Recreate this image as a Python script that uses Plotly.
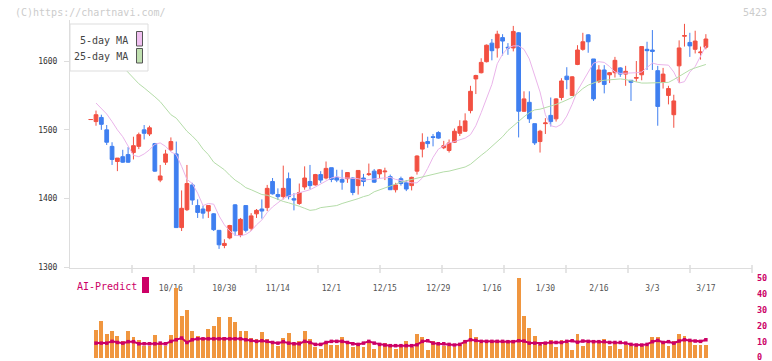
import plotly.graph_objects as go

dates = ["9/24","9/25","9/26","9/29","9/30","10/1","10/2","10/3","10/6","10/7","10/8","10/9","10/10","10/14","10/15","10/16","10/17","10/20","10/21","10/22","10/23","10/24","10/27","10/28","10/29","10/30","10/31","11/4","11/5","11/6","11/7","11/10","11/11","11/12","11/13","11/14","11/17","11/18","11/19","11/20","11/21","11/25","11/26","11/27","11/28","12/1","12/2","12/3","12/4","12/5","12/8","12/9","12/10","12/11","12/12","12/15","12/16","12/17","12/18","12/19","12/22","12/23","12/24","12/25","12/26","12/29","12/30","1/5","1/6","1/7","1/8","1/9","1/13","1/14","1/15","1/16","1/19","1/20","1/21","1/22","1/23","1/26","1/27","1/28","1/29","1/30","2/2","2/3","2/4","2/5","2/6","2/9","2/10","2/12","2/13","2/16","2/17","2/18","2/19","2/20","2/24","2/25","2/26","2/27","3/2","3/3","3/4","3/5","3/6","3/9","3/10","3/11","3/12","3/13","3/16","3/17"]

opens = [1515,1512,1518,1500,1476,1454,1461,1464,1467,1476,1500,1494,1480,1427,1453,1471,1465,1358,1384,1420,
         1390,1385,1382,1378,1354,1332,1343,1391,1347,1390,1357,1378,1385,1387,1425,1406,1403,1429,1400,1393,
         1417,1425,1420,1435,1430,1445,1431,1428,1429,1430,1419,1430,1435,1440,1436,1439,1432,1413,1429,1423,
         1419,1440,1472,1483,1490,1496,1474,1470,1482,1495,1498,1528,1574,1583,1599,1626,1619,1634,1620,1619,
         1641,1527,1540,1509,1483,1509,1521,1516,1547,1578,1550,1595,1617,1638,1603,1570,1587,1580,1583,1590,
         1581,1572,1575,1580,1617,1616,1586,1569,1550,1522,1593,1636,1627,1617,1612,1620]
highs = [1515,1528,1522,1507,1482,1459,1471,1475,1490,1496,1507,1506,1481,1449,1471,1489,1483,1412,1449,1423,
         1399,1390,1390,1379,1354,1341,1362,1392,1372,1390,1379,1385,1399,1420,1430,1415,1448,1438,1408,1422,
         1447,1449,1436,1440,1454,1445,1442,1442,1438,1431,1441,1436,1451,1443,1443,1445,1435,1423,1432,1427,
         1432,1463,1495,1490,1494,1498,1484,1486,1502,1514,1524,1564,1580,1604,1624,1632,1644,1639,1626,1651,
         1642,1556,1556,1509,1500,1517,1547,1546,1575,1591,1578,1623,1641,1639,1603,1594,1594,1584,1606,1591,
         1593,1572,1600,1621,1628,1645,1593,1590,1564,1551,1630,1654,1641,1644,1621,1639]
lows = [1515,1506,1500,1478,1449,1440,1452,1452,1457,1472,1486,1491,1439,1424,1449,1469,1358,1353,1382,1391,
        1372,1371,1372,1353,1327,1328,1341,1346,1344,1351,1353,1372,1371,1382,1406,1398,1399,1399,1383,1391,
        1413,1414,1419,1423,1428,1424,1424,1413,1423,1405,1406,1418,1433,1423,1430,1427,1413,1409,1419,1411,
        1412,1435,1460,1474,1476,1487,1472,1467,1481,1491,1497,1524,1552,1582,1598,1601,1605,1608,1609,1614,
        1489,1526,1510,1478,1467,1494,1505,1512,1543,1559,1549,1594,1615,1612,1542,1568,1553,1568,1576,1577,
        1564,1542,1570,1572,1587,1587,1506,1560,1537,1503,1568,1621,1606,1611,1602,1617]
closes = [1515,1522,1508,1482,1457,1459,1453,1453,1477,1493,1495,1503,1440,1433,1465,1483,1358,1386,1422,1398,
          1380,1379,1390,1355,1333,1335,1361,1353,1370,1354,1375,1383,1382,1415,1407,1403,1415,1403,1398,1409,
          1430,1419,1435,1427,1444,1428,1427,1424,1438,1409,1441,1425,1436,1424,1442,1440,1413,1420,1422,1414,
          1431,1462,1482,1480,1489,1488,1477,1481,1498,1505,1513,1556,1579,1598,1623,1615,1639,1629,1619,1643,
          1527,1545,1516,1481,1498,1510,1512,1545,1571,1573,1577,1616,1628,1628,1545,1587,1566,1583,1601,1581,
          1585,1569,1576,1621,1615,1614,1534,1581,1560,1542,1619,1637,1622,1629,1613,1632]

ma5 = [None,1539,1531,1523,1512,1500,1490,1476,1463,1461,1465,1471,1479,1481,1476,1468,1464,1447,1428,1422,
       1408,1390,1393,1392,1375,1362,1353,1347,1346,1348,1353,1362,1369,1380,1388,1394,1400,1404,1406,1408,
       1410,1413,1417,1421,1426,1430,1432,1430,1430,1430,1429,1427,1428,1428,1429,1431,1431,1428,1426,1424,
       1423,1423,1430,1444,1460,1472,1477,1481,1483,1485,1488,1493,1506,1525,1546,1566,1596,1610,1619,1622,
       1622,1617,1603,1580,1555,1522,1506,1504,1508,1520,1537,1557,1570,1585,1597,1599,1598,1592,1584,1582,
       1582,1582,1583,1584,1590,1597,1595,1594,1594,1584,1568,1570,1584,1592,1606,1622]
ma25 = [None,1634,1626,1618,1609,1600,1592,1584,1575,1567,1561,1555,1548,1541,1531,1522,1517,1507,1498,1491,
        1483,1472,1464,1453,1447,1442,1434,1427,1422,1416,1413,1410,1406,1405,1402,1398,1396,1394,1392,1389,
        1386,1383,1384,1387,1388,1389,1390,1393,1395,1398,1400,1403,1405,1410,1413,1416,1418,1422,1424,1426,
        1428,1430,1432,1434,1435,1437,1439,1440,1442,1444,1446,1450,1457,1463,1469,1476,1484,1490,1499,1506,
        1513,1519,1525,1529,1530,1532,1535,1537,1540,1543,1547,1553,1560,1565,1568,1571,1572,1573,1574,1574,
        1573,1571,1569,1568,1568,1568,1568,1568,1569,1573,1578,1583,1587,1590,1593,1595]

volume = [None,17.4,23.1,14.9,16.4,13.2,10.1,16.8,13.0,11.1,7.4,7.4,14.3,9.0,7.4,14.3,43.8,25.8,30.0,16.4,
          13.7,11.9,18.0,19.5,25.2,12.6,25.2,22.0,16.8,16.8,11.9,11.7,15.7,11.5,9.0,7.5,12.4,15.1,9.0,10.1,
          16.4,11.7,6.5,5.5,9.4,8.0,8.0,13.0,10.1,6.5,9.0,6.7,10.1,5.3,6.9,9.0,6.9,5.3,6.5,10.5,
          6.5,14.9,13.0,4.9,10.1,8.2,7.4,7.4,6.5,8.0,11.1,18.0,12.6,9.0,11.1,10.1,10.9,10.5,10.1,11.1,
          49.5,26.2,18.7,13.7,8.0,9.4,11.1,6.5,10.7,9.0,4.9,14.9,7.4,9.0,10.5,9.0,11.7,7.4,9.0,5.3,
          8.0,7.4,6.9,7.4,7.4,12.6,12.6,10.1,6.9,10.1,14.9,13.2,10.1,8.0,8.0,8.0]
ai_predict = [None,9.0,9.0,9.0,10.1,9.4,9.0,9.9,9.9,8.6,8.6,8.6,8.6,9.0,8.6,10.1,11.1,12.2,9.4,11.1,
              11.7,11.7,11.7,11.7,11.7,11.7,11.7,11.7,11.7,11.1,10.7,10.1,10.5,10.1,9.4,9.0,9.9,9.0,8.6,8.6,
              10.1,9.4,8.2,8.2,9.4,10.1,10.1,10.1,9.4,8.6,8.2,9.0,10.1,9.0,8.2,7.8,7.4,7.4,7.4,7.4,
              7.4,8.0,10.1,10.5,9.0,8.6,8.6,8.2,7.8,8.2,9.9,11.1,10.7,10.1,10.1,10.1,10.1,10.1,9.9,9.9,
              10.5,10.3,9.0,9.0,8.6,9.0,9.4,9.4,9.4,10.1,10.5,9.6,10.3,10.1,9.9,9.9,9.9,9.4,9.4,9.4,
              9.0,8.2,7.8,7.8,8.2,9.9,10.7,9.4,9.9,9.0,10.3,11.1,10.7,10.3,10.1,11.1]

tick_labels = ["10/16","10/30","11/14","12/1","12/15","12/29","1/16","1/30","2/16","3/3","3/17"]

RED = "#f25042"
BLUE = "#3f7ff0"
PINK = "#eab4ea"
GREEN = "#b4dca8"
ORANGE = "#f0963f"
CRIMSON = "#cc0066"
AXIS = "#dddddd"
FONT = "DejaVu Sans Mono"

W, H = 772, 361
L, R, T, B = 70, 20, 20, 1


def px(xp):
    return (xp - L) / (W - L - R)


def py(yp):
    return (H - B - yp) / (H - T - B)


fig = go.Figure()

fig.add_trace(go.Candlestick(
    x=dates, open=opens, high=highs, low=lows, close=closes,
    increasing=dict(line=dict(color=RED, width=1), fillcolor=RED),
    decreasing=dict(line=dict(color=BLUE, width=1), fillcolor=BLUE),
    whiskerwidth=0, hoverinfo="skip", showlegend=False,
    xaxis="x", yaxis="y"))

fig.add_trace(go.Scatter(x=dates, y=ma5, mode="lines", line=dict(color=PINK, width=1),
                         hoverinfo="skip", showlegend=False, xaxis="x", yaxis="y"))
fig.add_trace(go.Scatter(x=dates, y=ma25, mode="lines", line=dict(color=GREEN, width=1),
                         hoverinfo="skip", showlegend=False, xaxis="x", yaxis="y"))

fig.add_trace(go.Bar(x=dates, y=volume, marker=dict(color=ORANGE, line=dict(width=0)),
                     width=0.72, hoverinfo="skip", showlegend=False, xaxis="x2", yaxis="y2"))
fig.add_trace(go.Scatter(x=dates, y=ai_predict, mode="lines+markers",
                         line=dict(color=CRIMSON, width=2),
                         marker=dict(symbol="square", size=3.5, color=CRIMSON),
                         hoverinfo="skip", showlegend=False, xaxis="x2", yaxis="y2"))

x_left = -3.86
x_right = 123.62

main_bottom = py(267.5)
fig.update_layout(
    width=W, height=H,
    margin=dict(l=L, r=R, t=T, b=B, autoexpand=False),
    paper_bgcolor="white", plot_bgcolor="white",
    font=dict(family=FONT),
    showlegend=False,
    boxgap=0.3, boxgroupgap=0,
    bargap=0,
    xaxis=dict(type="category", range=[x_left, x_right], domain=[0, 1], anchor="y",
               automargin=False,
               rangeslider=dict(visible=False), showgrid=False, zeroline=False,
               showline=True, linecolor=AXIS, linewidth=1,
               tickmode="array", tickvals=tick_labels, ticktext=tick_labels,
               ticks="", ticklabelstandoff=13,
               tickfont=dict(family=FONT, size=8, color="#555555")),
    yaxis=dict(range=[1300, 1659.6], domain=[main_bottom, 1], anchor="x",
               automargin=False,
               showgrid=False, zeroline=False, showline=True, linecolor=AXIS, linewidth=1,
               tickmode="array", tickvals=[1300, 1400, 1500, 1600],
               ticks="outside", ticklen=5, tickcolor=AXIS, ticklabelstandoff=5,
               tickfont=dict(family=FONT, size=8, color="#333333")),
    xaxis2=dict(type="category", matches="x", anchor="y2", domain=[0, 1], visible=False,
                automargin=False, range=[x_left, x_right]),
    yaxis2=dict(range=[-1.56, 51.0], domain=[0, py(276)], anchor="x2", side="right",
                automargin=False, ticklabeloverflow="allow",
                showgrid=False, zeroline=False, showline=False,
                tickmode="array", tickvals=[0, 10, 20, 30, 40, 50], ticks="",
                ticklabelstandoff=4,
                tickfont=dict(family=FONT, size=8.5, color=CRIMSON, weight="bold")),
)

shapes = []
for k in range(1, 12):
    xk = L + k * (W - L - R) / 11
    shapes.append(dict(type="line", xref="paper", yref="paper",
                       x0=px(xk), x1=px(xk), y0=py(265), y1=py(273),
                       line=dict(color=AXIS, width=1.5), layer="above"))
# legend box
shapes.append(dict(type="rect", xref="paper", yref="paper",
                   x0=px(70), x1=px(148), y0=py(71), y1=py(24),
                   fillcolor="white", line=dict(color=AXIS, width=1), layer="above"))
shapes.append(dict(type="rect", xref="paper", yref="paper",
                   x0=px(136.5), x1=px(142.5), y0=py(46), y1=py(31.5),
                   fillcolor="#f0c0f0", line=dict(color="#555555", width=1), layer="above"))
shapes.append(dict(type="rect", xref="paper", yref="paper",
                   x0=px(136.5), x1=px(142.5), y0=py(63), y1=py(48.5),
                   fillcolor="#c0e0b0", line=dict(color="#555555", width=1), layer="above"))
shapes.append(dict(type="rect", xref="paper", yref="paper",
                   x0=px(142), x1=px(149), y0=py(293), y1=py(277),
                   fillcolor=CRIMSON, line=dict(width=0), layer="above"))

annotations = [
    dict(text="5-day MA", x=px(130), y=py(40.5), xanchor="right", yanchor="middle",
         font=dict(family=FONT, size=10, color="#444444")),
    dict(text="25-day MA", x=px(130), y=py(57), xanchor="right", yanchor="middle",
         font=dict(family=FONT, size=10, color="#444444")),
    dict(text="AI-Predict", x=px(75), y=py(286), xanchor="left", yanchor="middle",
         font=dict(family=FONT, size=10, color=CRIMSON)),
    dict(text="(C)https://chartnavi.com/", x=px(13), y=py(12), xanchor="left", yanchor="middle",
         font=dict(family=FONT, size=10, color="#cccccc")),
    dict(text="5423", x=px(769), y=py(12), xanchor="right", yanchor="middle",
         font=dict(family=FONT, size=10, color="#cccccc")),
]
for a in annotations:
    a.update(xref="paper", yref="paper", showarrow=False)

fig.update_layout(shapes=shapes, annotations=annotations)

fig.write_html("out.html", config={"displayModeBar": False, "staticPlot": True},
               post_script="document.body.style.margin='0px';document.body.style.overflow='hidden';")
